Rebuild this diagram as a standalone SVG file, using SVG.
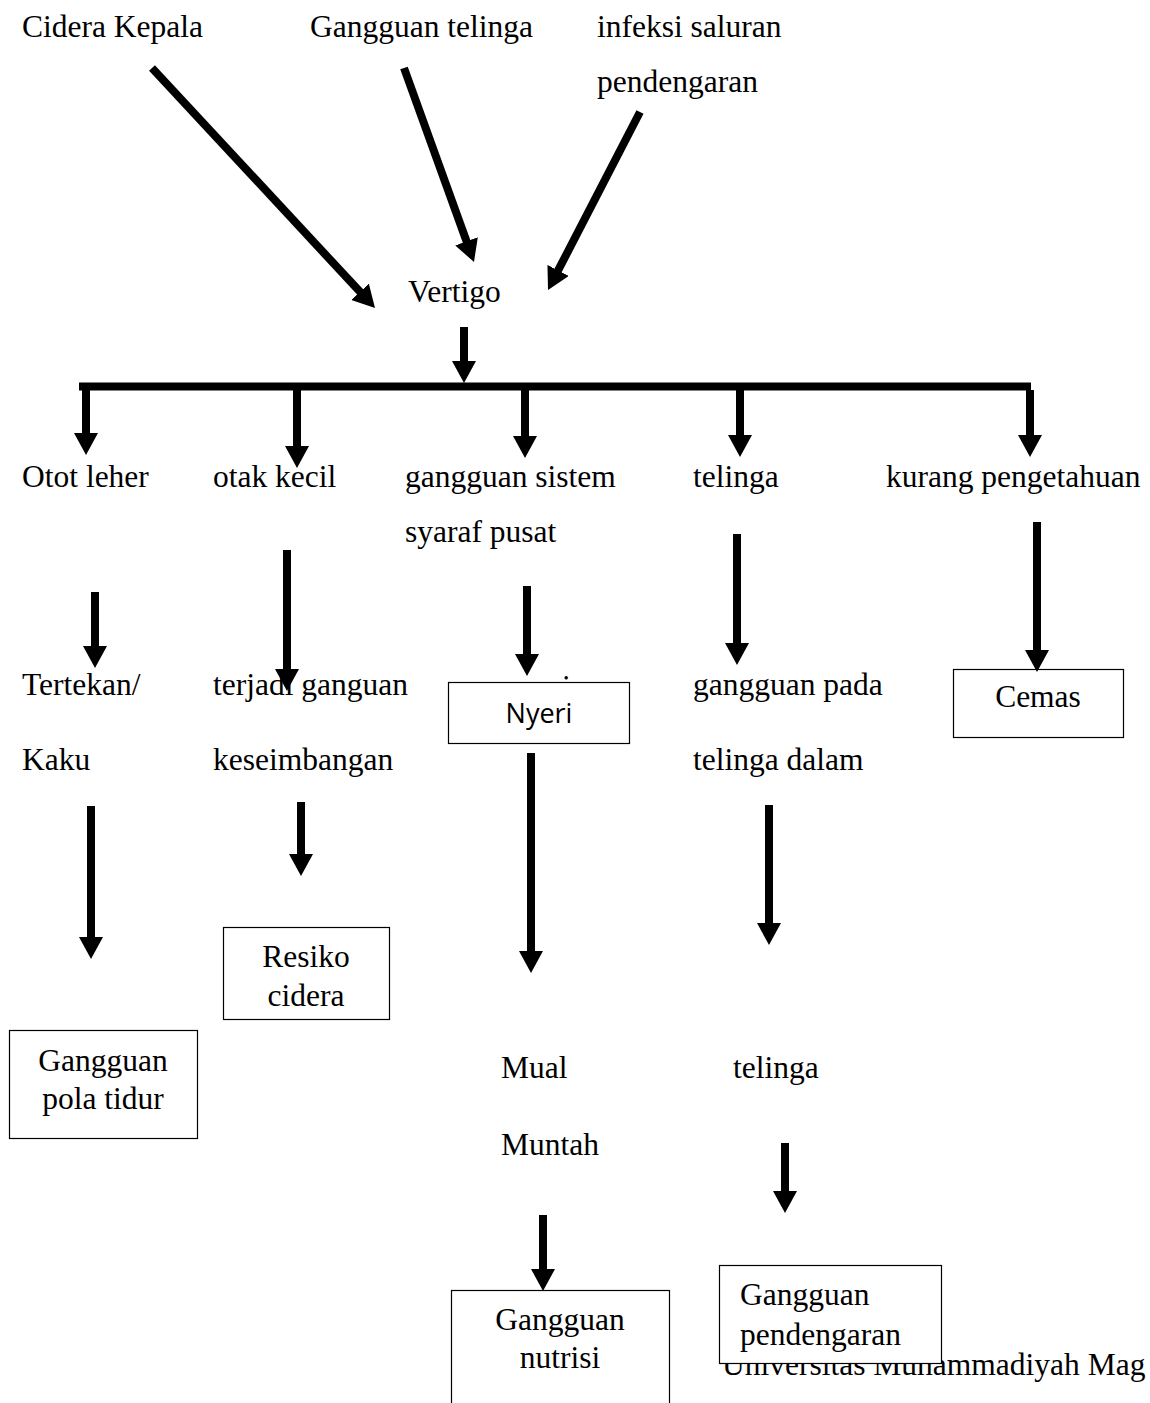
<svg xmlns="http://www.w3.org/2000/svg" width="1150" height="1403" viewBox="0 0 1150 1403">
<style>
text{font-family:"Liberation Serif","Times New Roman",serif;font-size:31.5px;fill:#000}
.c{text-anchor:middle}
.sans{font-family:"Open Sans","Liberation Sans",sans-serif;font-size:27px}
.box{fill:#fff;stroke:#000;stroke-width:1.2}
.arr{stroke:#000;stroke-width:8;fill:none;marker-end:url(#ah)}
</style>
<defs>
<marker id="ah" markerUnits="userSpaceOnUse" markerWidth="22" markerHeight="24" viewBox="0 0 22 24" refX="2" refY="12" orient="auto">
<path d="M0,0 L22,12 L0,24 z" fill="#000"/>
</marker>
</defs>
<rect width="1150" height="1403" fill="#fff"/>

<g id="n-cidera"><text x="22" y="37">Cidera Kepala</text></g>
<g id="n-gangguan-telinga"><text x="310" y="37">Gangguan telinga</text></g>
<g id="n-infeksi"><text x="597" y="37">infeksi saluran</text><text x="597" y="92">pendengaran</text></g>
<g id="n-vertigo"><text x="408" y="302">Vertigo</text></g>

<g id="n-otot"><text x="22" y="487">Otot leher</text></g>
<g id="n-otak"><text x="213" y="487">otak kecil</text></g>
<g id="n-sistem"><text x="405" y="487">gangguan sistem</text><text x="405" y="542">syaraf pusat</text></g>
<g id="n-telinga1"><text x="693" y="487">telinga</text></g>
<g id="n-kurang"><text x="886" y="487">kurang pengetahuan</text></g>

<g id="n-tertekan"><text x="22" y="695">Tertekan/</text><text x="22" y="770">Kaku</text></g>
<g id="n-terjadi"><text x="213" y="695">terjadi ganguan</text><text x="213" y="770">keseimbangan</text></g>
<g id="n-nyeri"><text x="506" y="697">nyeri</text><rect class="box" x="448.5" y="682.5" width="181" height="61"/><text class="c sans" x="539" y="723">Nyeri</text></g>
<g id="n-gangguan-pada"><text x="693" y="695">gangguan pada</text><text x="693" y="770">telinga dalam</text></g>
<g id="n-cemas"><rect class="box" x="953.5" y="669.5" width="170" height="68"/><text class="c" x="1038" y="707">Cemas</text></g>

<g id="n-resiko"><rect class="box" x="223.5" y="927.5" width="166" height="92"/><text class="c" x="306" y="967">Resiko</text><text class="c" x="306" y="1006">cidera</text></g>
<g id="n-pola"><rect class="box" x="9.5" y="1030.5" width="188" height="108"/><text class="c" x="103" y="1071">Gangguan</text><text class="c" x="103" y="1109">pola tidur</text></g>

<g id="n-mual"><text x="501" y="1078">Mual</text><text x="501" y="1155">Muntah</text></g>
<g id="n-telinga2"><text x="733" y="1078">telinga</text></g>

<g id="n-universitas"><text x="722" y="1375">Universitas Muhammadiyah Mag</text></g>
<g id="n-nutrisi"><rect class="box" x="451.5" y="1290.5" width="218" height="140"/><text class="c" x="560" y="1330">Gangguan</text><text class="c" x="560" y="1368">nutrisi</text></g>
<g id="n-pendengaran"><rect class="box" x="719.5" y="1265.5" width="222" height="98"/><text x="740" y="1305">Gangguan</text><text x="740" y="1345">pendengaran</text></g>

<g id="connectors">
<line class="arr" x1="152" y1="68" x2="361.4" y2="293.3"/>
<line class="arr" x1="404" y1="68" x2="467.2" y2="243.2"/>
<line class="arr" x1="640" y1="112" x2="557.2" y2="272.2"/>
<line class="arr" x1="464" y1="327" x2="464" y2="363"/>
<line x1="79" y1="386.5" x2="1031" y2="386.5" stroke="#000" stroke-width="8"/>
<line class="arr" x1="86" y1="390" x2="86" y2="435"/>
<line class="arr" x1="297" y1="390" x2="297" y2="448"/>
<line class="arr" x1="525" y1="390" x2="525" y2="438"/>
<line class="arr" x1="740" y1="390" x2="740" y2="437"/>
<line class="arr" x1="1030" y1="390" x2="1030" y2="437"/>
<line class="arr" x1="95" y1="592" x2="95" y2="648"/>
<line class="arr" x1="287" y1="550" x2="287" y2="671"/>
<line class="arr" x1="527" y1="586" x2="527" y2="656"/>
<line class="arr" x1="737" y1="534" x2="737" y2="645"/>
<line class="arr" x1="1037" y1="522" x2="1037" y2="652"/>
<line class="arr" x1="91" y1="806" x2="91" y2="939"/>
<line class="arr" x1="301" y1="802" x2="301" y2="856"/>
<line class="arr" x1="531" y1="753" x2="531" y2="953"/>
<line class="arr" x1="769" y1="805" x2="769" y2="925"/>
<line class="arr" x1="543" y1="1215" x2="543" y2="1271"/>
<line class="arr" x1="785" y1="1143" x2="785" y2="1193"/>
</g>
</svg>
